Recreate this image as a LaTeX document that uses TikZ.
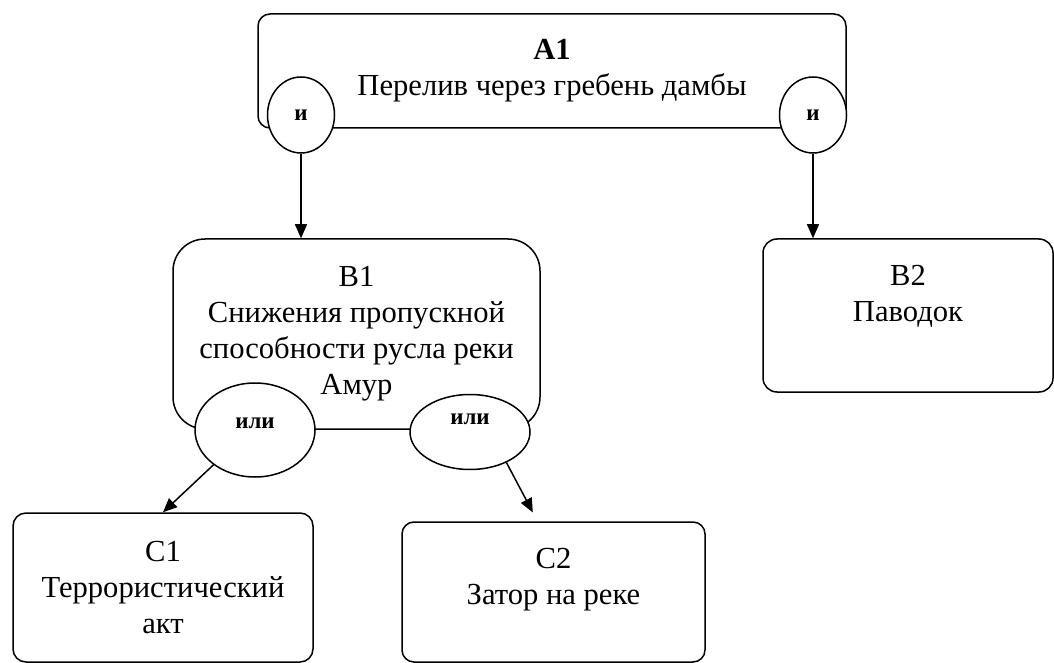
\documentclass[tikz,border=0pt]{standalone}
\usepackage{fontspec}
\setmainfont{Liberation Serif}
\usetikzlibrary{shapes.geometric, arrows.meta, positioning, calc}

\begin{document}
\begin{tikzpicture}[
    x=0.5pt, y=-0.5pt,
    event/.style={
        rectangle,
        draw,
        fill=white,
        line width=0.75pt,
        align=center,
        inner sep=0pt,
        font=\fontsize{15.3}{18}\selectfont
    },
    gate/.style={
        ellipse,
        draw,
        fill=white,
        line width=0.75pt,
        inner sep=0pt,
        font=\fontsize{11.5}{14}\selectfont\bfseries
    },
    line/.style={
        draw,
        -{Triangle[length=7pt,width=6pt]},
        line width=0.75pt
    }
]
    \useasboundingbox (0,0) rectangle (1054,663);

    % --- Nodes ---

    % Top event
    \node [event, rounded corners=6pt, minimum width=294pt, minimum height=57pt] (a1) at (552,71)
        {\textbf{A1}\\Перелив через гребень дамбы};
    \node [gate, minimum width=33.5pt, minimum height=38pt] (and1) at (301,115) {и};
    \node [gate, minimum width=33.5pt, minimum height=38pt] (and2) at (813,115) {и};

    % Second level
    \node [event, rounded corners=16pt, minimum width=183.5pt, minimum height=95pt] (b1) at (356.5,334)
        {B1\\Снижения пропускной\\способности русла реки\\Амур};
    \node [event, rounded corners=7pt, minimum width=145pt, minimum height=76.5pt] (b2) at (908,315.5)
        {B2\\Паводок\\[4pt]\mbox{}};
    \node [gate, minimum width=60pt, minimum height=47pt, text depth=7pt] (or1) at (255,430) {или};
    \node [gate, minimum width=60pt, minimum height=37.5pt, text depth=13pt] (or2) at (470,432) {или};

    % Third level
    \node [event, rounded corners=6.5pt, minimum width=150pt, minimum height=74.5pt] (c1) at (163,587.5)
        {C1\\Террористический\\акт};
    \node [event, rounded corners=6pt, minimum width=151.5pt, minimum height=70pt] (c2) at (553.5,592)
        {C2\\Затор на реке\\[-2pt]\mbox{}};

    % --- Connections ---
    \draw [line] (and1.south) -- (and1.south |- b1.north);
    \draw [line] (and2.south) -- (and2.south |- b2.north);
    \draw [line] (or1.220) -- (c1.north);
    \draw [line, shorten >=5pt] (or2.-40) -- ($(c2.north)+(-16,0)$);

\end{tikzpicture}
\end{document}
